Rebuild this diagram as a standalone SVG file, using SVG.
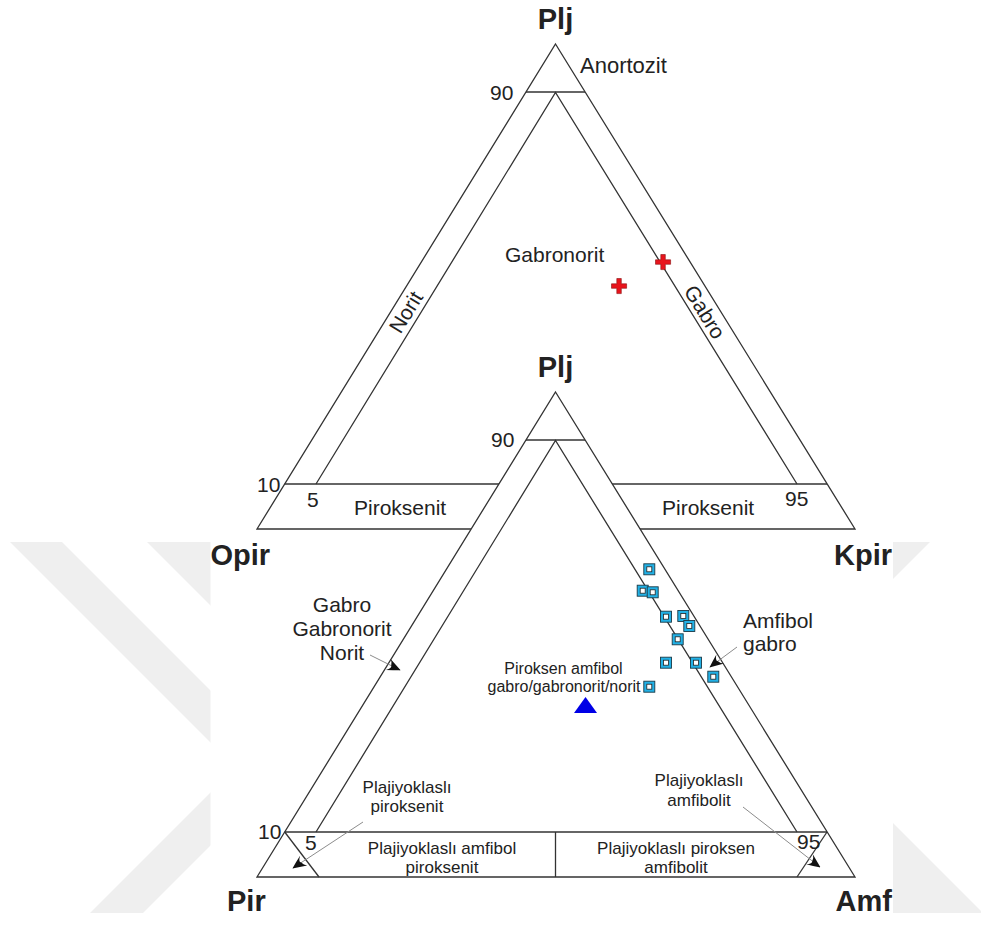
<svg xmlns="http://www.w3.org/2000/svg" width="981" height="925" viewBox="0 0 981 925">
<defs>
<style>
.ln{fill:none;stroke:#333;stroke-width:1.3;stroke-linejoin:miter}
.t{font-family:"Liberation Sans",Arial,sans-serif;fill:#222}
.b{font-family:"Liberation Sans",Arial,sans-serif;font-weight:bold;fill:#222;font-size:29px}
.n{font-size:21px}
.s{font-size:17px}
.m{text-anchor:middle}
.ld{fill:none;stroke:#8c8c8c;stroke-width:1}
.wm{fill:#efefef}
.sq{fill:#22b1e6;stroke:#1b3946;stroke-width:0.9}
.sqi{fill:#fff;stroke:#222;stroke-width:0.8}
.cr{fill:#e8141c;stroke:#8a1010;stroke-width:0.6}
</style>
<marker id="ah" viewBox="0 0 10 10" refX="9.5" refY="5" markerWidth="14" markerHeight="14" markerUnits="userSpaceOnUse" orient="auto">
<path d="M0,1 Q5,3 10,5 Q5,7.5 0.5,9.5 Q4,6.5 2.5,5 Q2,2.5 0,1 z" fill="#111"/>
</marker>
</defs>

<g id="watermark">
<polygon class="wm" points="10,542 62,542 362,842 310,842"/>
<polygon class="wm" points="147,542 260,542 560,842 447,842"/>
<polygon class="wm" points="90,913 143,913 443,613 390,613"/>
<polygon class="wm" points="800,542 930,542 630,842 500,842"/>
<polygon class="wm" points="880,810 983,913 880,913"/>
</g>
<rect x="210.5" y="0" width="682.5" height="925" fill="#fff"/>

<g id="top-diagram">
<polygon class="ln" points="555.5,44 855,529 257,529"/>
<line class="ln" x1="526" y1="92" x2="585" y2="92"/>
<line class="ln" x1="284.7" y1="484" x2="827" y2="484"/>
<polyline class="ln" points="316,484 555.5,92.5 797,484"/>
</g>

<g id="bottom-diagram">
<polygon class="ln" points="555.5,392 855,877 257,877" style="fill:#fff"/>
<line class="ln" x1="526" y1="440" x2="585" y2="440"/>
<line class="ln" x1="284.7" y1="832" x2="827" y2="832"/>
<polyline class="ln" points="316,832 555.5,440.5 797,832"/>
<line class="ln" x1="555.5" y1="832" x2="555.5" y2="877"/>
<line class="ln" x1="284.7" y1="832" x2="319" y2="877"/>
<line class="ln" x1="827" y1="832" x2="797" y2="877"/>
</g>

<g id="top-labels">
<text class="b m" x="555.5" y="28.5">Plj</text>
<text class="b" x="210.5" y="565">Opir</text>
<text class="b" x="892" y="565" text-anchor="end">Kpir</text>
<text class="t" x="580" y="73" font-size="22">Anortozit</text>
<text class="t n" x="490" y="100">90</text>
<text class="t n" x="257" y="492">10</text>
<text class="t n" x="307" y="507">5</text>
<text class="t n" x="785" y="506">95</text>
<text class="t n" x="505" y="262">Gabronorit</text>
<text class="t n m" transform="translate(405.7,312) rotate(-58.4)" y="7.5">Norit</text>
<text class="t n m" transform="translate(705,312) rotate(58.4)" y="7.5">Gabro</text>
<text class="t n" x="354" y="515">Piroksenit</text>
<text class="t n" x="662" y="515">Piroksenit</text>
</g>

<g id="bottom-labels">
<text class="b m" x="555.5" y="377">Plj</text>
<text class="b" x="227" y="911">Pir</text>
<text class="b" x="892" y="911" text-anchor="end">Amf</text>
<text class="t n" x="491" y="447">90</text>
<text class="t n" x="258" y="839">10</text>
<text class="t n" x="305" y="850">5</text>
<text class="t n" x="797" y="849">95</text>
<text class="t n m" x="342" y="612">Gabro</text>
<text class="t n m" x="342" y="636">Gabronorit</text>
<text class="t n m" x="342" y="660">Norit</text>
<text class="t n" x="743" y="628">Amfibol</text>
<text class="t n" x="743" y="651">gabro</text>
<text class="t m" font-size="16" x="563.5" y="674">Piroksen amfibol</text>
<text class="t m" font-size="16" x="564" y="692">gabro/gabronorit/norit</text>
<text class="t s m" x="407" y="793">Plajiyoklaslı</text>
<text class="t s m" x="407" y="812">piroksenit</text>
<text class="t s m" x="699" y="786">Plajiyoklaslı</text>
<text class="t s m" x="699" y="806">amfibolit</text>
<text class="t s m" x="442" y="854">Plajiyoklaslı amfibol</text>
<text class="t s m" x="442" y="873">piroksenit</text>
<text class="t s m" x="676" y="854">Plajiyoklaslı piroksen</text>
<text class="t s m" x="676" y="873">amfibolit</text>
</g>

<g id="connectors">
<line class="ld" x1="370" y1="655" x2="400" y2="670" marker-end="url(#ah)"/>
<line class="ld" x1="737" y1="647" x2="710" y2="667" marker-end="url(#ah)"/>
<line class="ld" x1="363" y1="822" x2="293" y2="868" marker-end="url(#ah)"/>
<line class="ld" x1="743" y1="807" x2="820" y2="867" marker-end="url(#ah)"/>
</g>

<g id="data-points">
<path class="cr" d="M660.8,254.5h4.5v5.3h5.3v4.5h-5.3v5.3h-4.5v-5.3h-5.3v-4.5h5.3z"/>
<path class="cr" d="M616.8,278.5h4.5v5.3h5.3v4.5h-5.3v5.3h-4.5v-5.3h-5.3v-4.5h5.3z"/>
<polygon points="574,713 597,713 585.5,697" fill="#0000e6"/>
<g id="squares">
<rect class="sq" x="643.8" y="563.8" width="11" height="11"/><rect class="sqi" x="646.8" y="566.8" width="5" height="5"/>
<rect class="sq" x="637.2" y="585.2" width="11" height="11"/><rect class="sqi" x="640.2" y="588.2" width="5" height="5"/>
<rect class="sq" x="647.2" y="586.8" width="11" height="11"/><rect class="sqi" x="650.2" y="589.8" width="5" height="5"/>
<rect class="sq" x="660.5" y="611.2" width="11" height="11"/><rect class="sqi" x="663.5" y="614.2" width="5" height="5"/>
<rect class="sq" x="677.8" y="610.5" width="11" height="11"/><rect class="sqi" x="680.8" y="613.5" width="5" height="5"/>
<rect class="sq" x="683.8" y="620.5" width="11" height="11"/><rect class="sqi" x="686.8" y="623.5" width="5" height="5"/>
<rect class="sq" x="672.2" y="633.8" width="11" height="11"/><rect class="sqi" x="675.2" y="636.8" width="5" height="5"/>
<rect class="sq" x="660.5" y="657.2" width="11" height="11"/><rect class="sqi" x="663.5" y="660.2" width="5" height="5"/>
<rect class="sq" x="690.5" y="657.2" width="11" height="11"/><rect class="sqi" x="693.5" y="660.2" width="5" height="5"/>
<rect class="sq" x="707.8" y="671.2" width="11" height="11"/><rect class="sqi" x="710.8" y="674.2" width="5" height="5"/>
<rect class="sq" x="643.8" y="681.2" width="11" height="11"/><rect class="sqi" x="646.8" y="684.2" width="5" height="5"/>
</g>
</g>
</svg>
